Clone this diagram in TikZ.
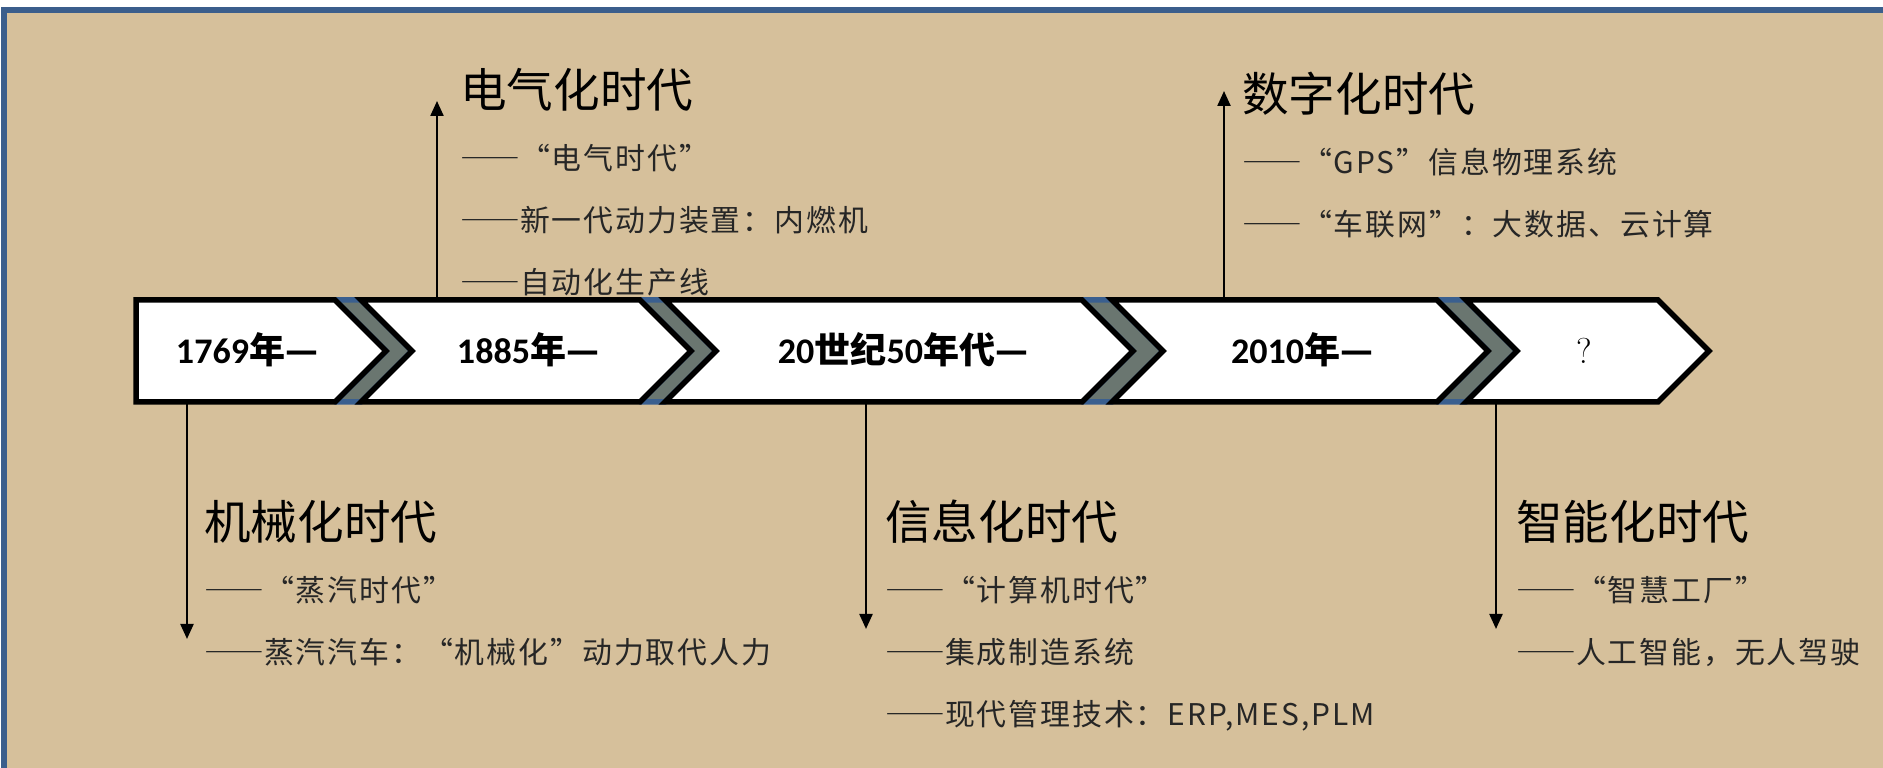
\documentclass[tikz,border=0pt]{standalone}
\usepackage{fontspec}
\usepackage{xcolor}
\usepackage{tikz}
\usetikzlibrary{positioning}
\usetikzlibrary{arrows.meta}
\newfontfamily\cjk{Noto Sans CJK SC}
\newfontfamily\cjkitem{Noto Sans CJK SC}[LetterSpace=6.5]
\newfontfamily\numfont{Carlito}
\newcommand{\fulldash}{{\addfontfeature{CharacterWidth=Full}——}}
\definecolor{sand}{RGB}{214,192,155}
\definecolor{frameblue}{RGB}{59,94,140}
\definecolor{gapgray}{RGB}{106,118,112}
\definecolor{gapblue}{RGB}{58,95,143}

\begin{document}
\begin{tikzpicture}[x=0.2mm,y=0.2mm,
		chev/.style={fill=white,draw=black,line width=1.1mm,line join=miter},
		gap/.style={fill=gapgray,draw=gapblue,line width=1.1mm,line join=round},
		date/.style={font=\cjk\bfseries\fontsize{20.5}{24}\selectfont,inner sep=0pt,text height=5mm,text depth=0mm},
		era/.style={font=\cjk\fontsize{26.5}{30}\selectfont,anchor=west,inner sep=0pt,text height=8.2mm,text depth=1.12mm},
		item/.style={font=\cjkitem\fontsize{17}{20}\selectfont,text=black!85,inner sep=0pt,text height=5.26mm,text depth=0.72mm},
		arr/.style={-{Triangle[length=3mm,width=2.6mm]},line width=0.45mm}]
		\useasboundingbox (0,0) rectangle (1883,768);
		\fill[sand] (4,0) rectangle (1883,758);
		\draw[frameblue,line width=1.2mm] (4,0) -- (4,758) -- (1883,758);
		
		\draw[gap] (335,468) -- (361,468) -- (412,417) -- (361,366) -- (335,366) -- (386,417) -- cycle;
		\draw[gap] (640,468) -- (665,468) -- (716,417) -- (665,366) -- (640,366) -- (691,417) -- cycle;
		\draw[gap] (1082,468) -- (1112,468) -- (1163,417) -- (1112,366) -- (1082,366) -- (1133,417) -- cycle;
		\draw[gap] (1437,468) -- (1466,468) -- (1517,417) -- (1466,366) -- (1437,366) -- (1488,417) -- cycle;
		
		\draw[chev] (136,468) -- (335,468) -- (386,417) -- (335,366) -- (136,366) -- cycle;
		\draw[chev] (361,468) -- (640,468) -- (691,417) -- (640,366) -- (361,366) -- (412,417) -- cycle;
		\draw[chev] (665,468) -- (1082,468) -- (1133,417) -- (1082,366) -- (665,366) -- (716,417) -- cycle;
		\draw[chev] (1112,468) -- (1437,468) -- (1488,417) -- (1437,366) -- (1112,366) -- (1163,417) -- cycle;
		\draw[chev] (1466,468) -- (1658,468) -- (1709,417) -- (1658,366) -- (1466,366) -- (1517,417) -- cycle;
		
		\node[date] at (247,417) (c1) {{\numfont 1769}年—};
		\node[date] at (528,417) (c2) {{\numfont 1885}年—};
		\node[date] at (903,417) (c3) {{\numfont 20}世纪{\numfont 50}年代—};
		\node[date] at (1302,417) (c4) {{\numfont 2010}年—};
		\node[date] at (1584,417) (c5) {{\rmfamily\mdseries ?}};
		
		\coordinate (a1) at (187,366);
		\coordinate (a1e) at (187,129);
		\coordinate (a2) at (437,468);
		\coordinate (a2e) at (437,667);
		\coordinate (a3) at (866,366);
		\coordinate (a3e) at (866,139);
		\coordinate (a4) at (1224,468);
		\coordinate (a4e) at (1224,677);
		\coordinate (a5) at (1496,366);
		\coordinate (a5e) at (1496,139);
		\draw[arr] (a1) -- (a1e);
		\draw[arr] (a2) -- (a2e);
		\draw[arr] (a3) -- (a3e);
		\draw[arr] (a4) -- (a4e);
		\draw[arr] (a5) -- (a5e);
		
		\node[era] at (204,246) (e1) {机械化时代};
		\node[item,below=5.8mm of e1.south west,anchor=north west] (e1a) {\fulldash{}“蒸汽时代”};
		\node[item,below=6.3mm of e1a.south west,anchor=north west] (e1b) {\fulldash{}蒸汽汽车：“机械化”动力取代人力};
		
		\node[era] at (460,678) (e2) {电气化时代};
		\node[item,below=5.8mm of e2.south west,anchor=north west] (e2a) {\fulldash{}“电气时代”};
		\node[item,below=6.3mm of e2a.south west,anchor=north west] (e2b) {\fulldash{}新一代动力装置：内燃机};
		\node[item,below=6.3mm of e2b.south west,anchor=north west] (e2c) {\fulldash{}自动化生产线};
		
		\node[era] at (885,246) (e3) {信息化时代};
		\node[item,below=5.8mm of e3.south west,anchor=north west] (e3a) {\fulldash{}“计算机时代”};
		\node[item,below=6.3mm of e3a.south west,anchor=north west] (e3b) {\fulldash{}集成制造系统};
		\node[item,below=6.3mm of e3b.south west,anchor=north west] (e3c) {\fulldash{}现代管理技术：ERP,MES,PLM};
		
		\node[era] at (1242,674) (e4) {数字化时代};
		\node[item,below=5.8mm of e4.south west,anchor=north west] (e4a) {\fulldash{}“GPS”信息物理系统};
		\node[item,below=6.3mm of e4a.south west,anchor=north west] (e4b) {\fulldash{}“车联网”：大数据、云计算};
		
		\node[era] at (1516,246) (e5) {智能化时代};
		\node[item,below=5.8mm of e5.south west,anchor=north west] (e5a) {\fulldash{}“智慧工厂”};
		\node[item,below=6.3mm of e5a.south west,anchor=north west] (e5b) {\fulldash{}人工智能，无人驾驶};
	\end{tikzpicture}
\end{document}
